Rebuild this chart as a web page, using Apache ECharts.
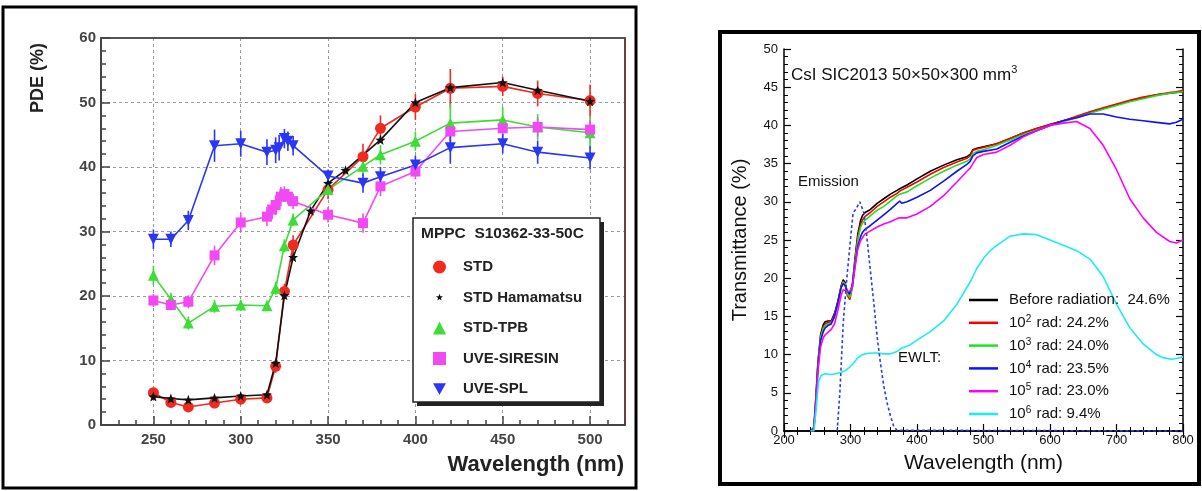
<!DOCTYPE html>
<html><head><meta charset="utf-8">
<script src="https://cdn.jsdelivr.net/npm/echarts@6/dist/echarts.min.js"></script>
<style>html,body{margin:0;padding:0;background:#fff}#c{width:1202px;height:491px}</style>
</head><body><div id="c"></div>
<script>
// ---------- Left panel: MPPC S10362-33-50C PDE (%) ----------
const stdWl  = [250,260,270,285,300,315,320,325,330,350,370,380,400,420,450,470,500];
const stdPde = [5.0,3.5,2.8,3.4,4.0,4.2,9.1,20.7,27.9,36.5,41.6,46.0,49.3,52.2,52.5,51.4,50.3];
const stdErr = [0.8,0.8,0.8,0.8,0.8,0.8,1.0,1.2,1.5,1.5,2.0,2.0,2.0,3.0,1.5,2.0,2.5];

const hamWl  = [250,260,270,285,300,315,320,325,330,340,350,360,380,400,420,450,470,500];
const hamPde = [4.4,4.1,3.9,4.2,4.5,4.7,9.6,20.1,26.0,33.2,37.5,39.5,44.2,50.0,52.3,53.1,51.9,50.2];

const tpbWl  = [250,260,270,285,300,315,320,325,330,350,370,380,400,420,450,470,500];
const tpbPde = [23.2,19.5,15.8,18.4,18.6,18.5,21.2,27.8,31.8,36.5,40.1,41.9,44.0,46.8,47.3,46.2,45.3];
const tpbErr = [1.5,1.0,1.0,1.0,0.8,0.8,1.0,1.0,1.0,1.0,1.5,1.5,1.5,3.0,2.0,2.0,2.5];

const sirWl  = [250,260,270,285,300,315,318,320,323,325,327,330,350,370,380,400,420,450,470,500];
const sirPde = [19.3,18.6,19.1,26.3,31.4,32.3,33.4,34.1,35.4,35.8,35.4,34.7,32.6,31.3,37.0,39.3,45.5,46.0,46.2,45.8];
const sirErr = [1.0,0.8,1.0,1.5,1.5,1.5,1.5,1.5,1.5,1.2,1.2,1.2,1.2,1.5,1.5,1.2,1.5,1.5,1.5,1.5];

const splWl  = [250,260,270,285,300,315,320,322,325,327,330,350,370,380,400,420,450,470,500];
const splPde = [28.8,28.8,31.7,43.3,43.6,42.3,42.6,43.0,44.4,44.0,43.3,38.6,37.5,38.5,40.3,43.0,43.6,42.3,41.4];
const splErr = [1.5,1.2,1.5,2.5,2.0,2.0,2.0,2.0,1.5,1.5,1.5,1.0,1.5,1.5,1.5,2.5,1.5,1.8,1.8];

const pdeXTicks = [250,300,350,400,450,500];

// ---------- Right panel: CsI transmittance (%) ----------
const tWl = [240,245,248,251,255,259,262,266,271,276,281,286,289,292,295,299,303,307,311,315,318,322,330,340,350,360,370,374,377,385,400,420,440,460,475,480,484,490,500,520,540,560,580,600,620,640,660,680,700,720,740,760,780,790,800];
const tBefore = [0,0.5,4.5,9.0,12.6,13.9,14.3,14.4,14.4,15.4,17.0,19.0,19.8,19.4,18.2,17.6,19.3,22.8,25.8,27.5,28.2,28.6,29.0,29.8,30.4,31.0,31.5,31.7,31.6,32.2,33.0,34.0,34.8,35.5,35.9,36.2,36.8,37.0,37.2,37.6,38.3,39.0,39.6,40.1,40.6,41.1,41.7,42.2,42.7,43.2,43.6,44.0,44.2,44.3,44.4];
const t1e2 = [0,0.4,4.2,8.7,12.3,13.6,14.0,14.2,14.3,15.2,16.8,18.9,19.6,19.2,17.8,17.2,18.9,22.4,25.4,27.0,27.6,28.1,28.6,29.4,30.0,30.6,31.1,31.4,31.2,31.9,32.6,33.6,34.5,35.2,35.7,36.0,36.7,36.9,37.1,37.6,38.3,39.0,39.6,40.1,40.6,41.2,41.8,42.3,42.8,43.3,43.7,44.0,44.3,44.4,44.6];
const t1e3 = [0,0.4,4.0,8.5,12.2,13.4,13.8,14.0,14.1,15.0,16.7,18.8,19.5,19.2,18.0,17.5,19.0,22.2,25.0,26.6,27.2,27.6,28.2,28.9,29.4,30.1,30.8,31.0,30.8,31.3,32.1,33.1,34.0,34.8,35.3,35.6,36.3,36.6,36.8,37.4,38.1,38.8,39.4,40.0,40.5,41.0,41.6,42.1,42.6,43.1,43.5,43.9,44.2,44.3,44.4];
const t1e4 = [0,0.3,3.8,8.2,11.8,13.0,13.5,13.8,14.0,15.0,16.8,18.8,19.3,19.0,18.3,18.0,19.2,21.8,24.2,25.4,26.0,26.4,26.9,27.6,28.3,29.0,29.8,30.1,29.8,30.0,30.6,31.5,32.7,34.0,34.9,35.3,36.0,36.4,36.6,36.9,37.8,38.6,39.3,40.0,40.6,41.0,41.5,41.5,41.1,40.8,40.6,40.4,40.2,40.4,40.8];
const t1e5 = [0,0.2,3.5,7.8,11.0,12.2,12.6,12.9,13.3,14.0,15.8,17.8,18.5,18.6,18.3,18.3,19.0,21.5,23.8,24.9,25.3,25.8,26.2,26.7,27.1,27.4,27.8,27.9,27.8,27.9,28.4,29.4,30.8,32.6,34.0,34.4,35.0,35.8,36.2,36.5,37.4,38.5,39.3,40.0,40.3,40.5,39.6,37.4,34.2,30.4,27.9,26.0,24.8,24.6,25.0];
const cyWl = [240,245,248,252,256,262,270,278,286,292,298,304,310,316,322,330,340,350,360,370,376,390,400,420,440,460,480,490,500,510,520,540,560,580,600,620,640,660,670,680,700,720,740,760,770,782,790,800];
const t1e6 = [0,0,2.5,6.5,7.3,7.5,7.4,7.5,7.7,7.9,8.3,8.8,9.5,9.9,10.1,10.2,10.2,10.1,10.1,10.4,10.8,11.3,11.9,13.0,14.4,16.6,19.5,21.3,22.6,23.6,24.3,25.5,25.8,25.7,25.0,24.3,23.6,22.5,21.4,20.2,16.6,13.5,11.4,10.0,9.6,9.4,9.5,9.7];
const emWl = [280,284,289,295,301,304,308,314,317,320,324,330,335,340,345,350,355,360,365,370,373,800];
const emVal = [0,5,14.1,20.5,26,28.6,29,30,29.8,28.6,25.9,20.9,16.8,12.4,8.9,5.9,3.7,2,0.6,0.1,0,0];

const tNames = ['Before radiation:  24.6%','10^2 rad: 24.2%','10^3 rad: 24.0%','10^4 rad: 23.5%','10^5 rad: 23.0%','10^6 rad: 9.4%'];

// ---------- helpers ----------
const FF = "'Liberation Sans', Arial, Helvetica, sans-serif";
const zip = (a, b) => a.map((v, i) => [v, b[i]]);
const starIcon = 'path://M2,2 M18,18 M10,5.5 L11.12,8.46 L14.28,8.61 L11.81,10.59 L12.65,13.64 L10,11.9 L7.35,13.64 L8.19,10.59 L5.72,8.61 L8.88,8.46 Z';
const starSym = 'path://M10,5.5 L11.12,8.46 L14.28,8.61 L11.81,10.59 L12.65,13.64 L10,11.9 L7.35,13.64 L8.19,10.59 L5.72,8.61 L8.88,8.46 Z';
const downTri = 'path://M0,0 L10,0 L5,9 Z';

function pdeSeries(name, wl, vals, color, symbol, size) {
  return { name, type: 'line', xAxisIndex: 0, yAxisIndex: 0, data: zip(wl, vals),
    symbol, symbolSize: size, showSymbol: true, z: 3,
    lineStyle: { color, width: 1.6 }, itemStyle: { color } };
}
function errSeries(wl, vals, errs, color) {
  return { type: 'custom', xAxisIndex: 0, yAxisIndex: 0, silent: true, z: 2,
    data: wl.map((w, i) => [w, vals[i] - errs[i], vals[i] + errs[i]]),
    renderItem(params, api) {
      const p1 = api.coord([api.value(0), api.value(1)]);
      const p2 = api.coord([api.value(0), api.value(2)]);
      return { type: 'line', shape: { x1: p1[0], y1: p1[1], x2: p2[0], y2: p2[1] },
        style: { stroke: color, lineWidth: 1.6 } };
    } };
}
function tSeries(name, wl, vals, color, extra) {
  return Object.assign({ name, type: 'line', xAxisIndex: 3, yAxisIndex: 2, data: zip(wl, vals),
    symbol: 'none', lineStyle: { color, width: 1.6 }, itemStyle: { color } }, extra || {});
}

const leftAxisText = { fontFamily: FF, fontWeight: 'bold', fontSize: 15, color: '#444' };
const rightAxisText = { fontFamily: FF, fontSize: 13, color: '#111' };

const option = {
  animation: false,
  backgroundColor: '#fff',
  grid: [
    { left: 101, top: 38, width: 524, height: 387 },
    { left: 784, top: 49, width: 399, height: 382 }
  ],
  xAxis: [
    { gridIndex: 0, type: 'value', min: 220, max: 520, position: 'bottom',
      axisLine: { lineStyle: { color: '#444', width: 2 } },
      axisTick: { inside: true, length: 9, customValues: pdeXTicks, lineStyle: { color: '#444', width: 1.5 } },
      axisLabel: Object.assign({ margin: 7, customValues: pdeXTicks }, leftAxisText),
      splitLine: { show: true, lineStyle: { color: '#9a9a9a', type: [3, 3], width: 1 } } },
    { gridIndex: 0, type: 'value', min: 220, max: 520, interval: 10, position: 'bottom',
      axisLine: { show: false }, axisLabel: { show: false }, splitLine: { show: false },
      axisTick: { inside: true, length: 5, lineStyle: { color: '#444', width: 1.5 } } },
    { gridIndex: 0, type: 'value', min: 220, max: 520, position: 'top',
      axisLine: { lineStyle: { color: '#555', width: 2 } }, axisTick: { show: false },
      axisLabel: { show: false }, splitLine: { show: false } },
    { gridIndex: 1, type: 'value', min: 200, max: 800, interval: 100, position: 'bottom',
      axisLine: { lineStyle: { color: '#000', width: 1.5 } },
      axisTick: { inside: true, length: 7, lineStyle: { color: '#000', width: 1.2 } },
      minorTick: { show: true, splitNumber: 5, length: 4, lineStyle: { color: '#000', width: 1 } },
      axisLabel: Object.assign({ margin: 3 }, rightAxisText), splitLine: { show: false },
      name: 'Wavelength (nm)', nameLocation: 'middle', nameGap: 22,
      nameTextStyle: { fontFamily: FF, fontSize: 21, color: '#111' } },
    { gridIndex: 1, type: 'value', min: 200, max: 800, interval: 100, position: 'top',
      axisLine: { lineStyle: { color: '#000', width: 1.5 } },
      axisTick: { inside: true, length: 7, lineStyle: { color: '#000', width: 1.2 } },
      minorTick: { show: true, splitNumber: 5, length: 4, lineStyle: { color: '#000', width: 1 } },
      axisLabel: { show: false }, splitLine: { show: false } }
  ],
  yAxis: [
    { gridIndex: 0, type: 'value', min: 0, max: 60, interval: 10,
      axisLine: { show: true, lineStyle: { color: '#444', width: 2 } },
      axisTick: { show: true, inside: true, length: 9, lineStyle: { color: '#444', width: 1.5 } },
      minorTick: { show: true, splitNumber: 5, length: 5, lineStyle: { color: '#444', width: 1.5 } },
      axisLabel: Object.assign({ margin: 5 }, leftAxisText),
      splitLine: { show: true, lineStyle: { color: '#9a9a9a', type: [3, 3], width: 1 } } },
    { gridIndex: 0, type: 'value', min: 0, max: 60, position: 'right',
      axisLine: { show: true, lineStyle: { color: '#6a4040', width: 2 } }, axisTick: { show: false },
      axisLabel: { show: false }, splitLine: { show: false } },
    { gridIndex: 1, type: 'value', min: 0, max: 50, interval: 5,
      axisLine: { show: true, lineStyle: { color: '#000', width: 1.5 } },
      axisTick: { show: true, inside: true, length: 7, lineStyle: { color: '#000', width: 1.2 } },
      minorTick: { show: true, splitNumber: 5, length: 4, lineStyle: { color: '#000', width: 1 } },
      axisLabel: Object.assign({ margin: 6 }, rightAxisText), splitLine: { show: false },
      name: 'Transmittance (%)', nameLocation: 'middle', nameGap: 34,
      nameTextStyle: { fontFamily: FF, fontSize: 20, color: '#111' } },
    { gridIndex: 1, type: 'value', min: 0, max: 50, interval: 5, position: 'right',
      axisLine: { show: true, lineStyle: { color: '#000', width: 1.5 } },
      axisTick: { show: true, inside: true, length: 7, lineStyle: { color: '#000', width: 1.2 } },
      minorTick: { show: true, splitNumber: 5, length: 4, lineStyle: { color: '#000', width: 1 } },
      axisLabel: { show: false }, splitLine: { show: false } }
  ],
  legend: [
    { left: 428, top: 254, orient: 'vertical', itemWidth: 13, itemHeight: 13, itemGap: 14.5,
      selectedMode: false, z: 6,
      textStyle: { fontFamily: FF, fontWeight: 'bold', fontSize: 15, color: '#222', lineHeight: 16, padding: [0, 0, 0, 12] },
      data: [
        { name: 'STD', icon: 'circle' },
        { name: 'STD Hamamatsu', icon: starIcon },
        { name: 'STD-TPB', icon: 'triangle' },
        { name: 'UVE-SIRESIN', icon: 'rect' },
        { name: 'UVE-SPL', icon: downTri }
      ] },
    { left: 964, top: 286, orient: 'vertical', itemWidth: 29, itemHeight: 2.5, itemGap: 4.8,
      selectedMode: false, icon: 'rect',
      formatter: n => n.replace(/\^(\d)/, '{sup|$1}'),
      textStyle: { fontFamily: FF, fontSize: 15, color: '#111', lineHeight: 18, padding: [0, 0, 0, 6],
        rich: { sup: { fontFamily: FF, fontSize: 10, color: '#111', padding: [0, 1, 7, 0] } } },
      data: tNames }
  ],
  graphic: [
    { type: 'rect', z: 0, silent: true, shape: { x: 3, y: 7, width: 633, height: 481 },
      style: { fill: 'none', stroke: '#000', lineWidth: 3 } },
    { type: 'rect', z: 0, silent: true, shape: { x: 720, y: 32, width: 479, height: 452 },
      style: { fill: 'none', stroke: '#000', lineWidth: 4 } },
    { type: 'rect', z: 4, silent: true, shape: { x: 417, y: 222, width: 187, height: 184 },
      style: { fill: '#222' } },
    { type: 'rect', z: 4, silent: true, shape: { x: 413, y: 218, width: 187, height: 184 },
      style: { fill: '#fff', stroke: '#222', lineWidth: 1.5 } },
    { type: 'text', z: 6, silent: true, x: 421, y: 234,
      style: { text: 'MPPC  S10362-33-50C', fontFamily: FF, fontWeight: 'bold', fontSize: 15.5, fill: '#222', align: 'left', verticalAlign: 'middle' } },
    { type: 'text', z: 6, silent: true, x: 624, y: 465,
      style: { text: 'Wavelength (nm)', fontFamily: FF, fontWeight: 'bold', fontSize: 22, fill: '#222', align: 'right', verticalAlign: 'middle' } },
    { type: 'text', z: 6, silent: true, x: 38, y: 78, rotation: Math.PI / 2,
      style: { text: 'PDE (%)', fontFamily: FF, fontWeight: 'bold', fontSize: 18, fill: '#222', align: 'center', verticalAlign: 'middle' } },
    { type: 'text', z: 6, silent: true, x: 791, y: 75,
      style: { text: 'CsI SIC2013 50×50×300 mm{sup|3}', fontFamily: FF, fontSize: 17, fill: '#111', align: 'left', verticalAlign: 'middle',
        rich: { sup: { fontFamily: FF, fontSize: 11, fill: '#111', padding: [0, 0, 10, 0] } } } },
    { type: 'text', z: 6, silent: true, x: 798, y: 182,
      style: { text: 'Emission', fontFamily: FF, fontSize: 15, fill: '#111', align: 'left', verticalAlign: 'middle' } },
    { type: 'text', z: 6, silent: true, x: 898, y: 358,
      style: { text: 'EWLT:', fontFamily: FF, fontSize: 15, fill: '#111', align: 'left', verticalAlign: 'middle' } }
  ],
  series: [
    errSeries(stdWl, stdPde, stdErr, '#f02a1e'),
    errSeries(tpbWl, tpbPde, tpbErr, '#3ddc37'),
    errSeries(sirWl, sirPde, sirErr, '#f24af2'),
    errSeries(splWl, splPde, splErr, '#2b36f5'),
    pdeSeries('STD', stdWl, stdPde, '#f02a1e', 'circle', 11),
    pdeSeries('STD Hamamatsu', hamWl, hamPde, '#111111', starSym, 10),
    pdeSeries('STD-TPB', tpbWl, tpbPde, '#3ddc37', 'triangle', 11),
    pdeSeries('UVE-SIRESIN', sirWl, sirPde, '#f24af2', 'rect', 10),
    pdeSeries('UVE-SPL', splWl, splPde, '#2b36f5', downTri, 11),
    tSeries(tNames[0], tWl, tBefore, '#000000'),
    tSeries(tNames[1], tWl, t1e2, '#ff0000'),
    tSeries(tNames[2], tWl, t1e3, '#22e022'),
    tSeries(tNames[3], tWl, t1e4, '#1010ff'),
    tSeries(tNames[4], tWl, t1e5, '#ff00ff'),
    tSeries(tNames[5], cyWl, t1e6, '#19eef2'),
    tSeries('Emission', emWl, emVal, '#2b3be0', { lineStyle: { color: '#2b3be0', width: 1.6, type: [3, 2.5] } })
  ]
};
const chart = echarts.init(document.getElementById('c'), null, { renderer: 'canvas' });
chart.setOption(option);
</script></body></html>
